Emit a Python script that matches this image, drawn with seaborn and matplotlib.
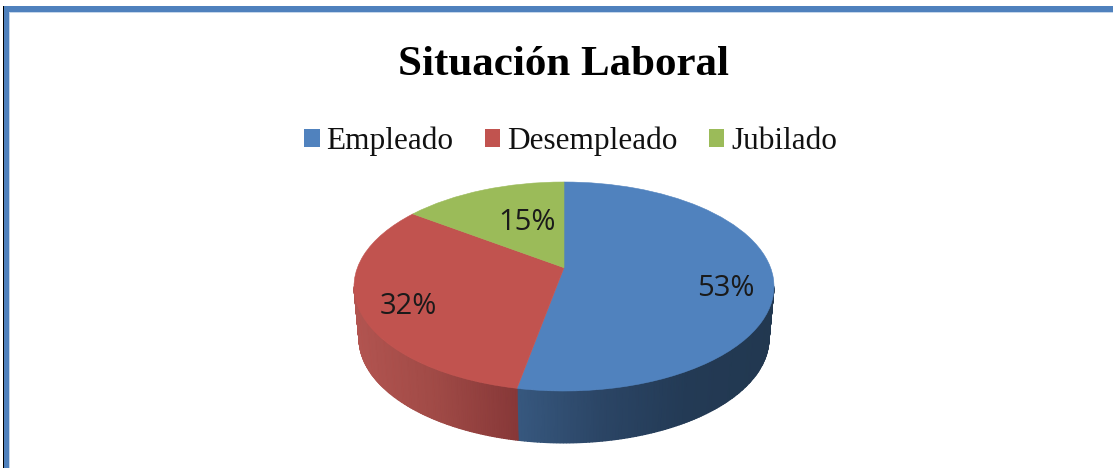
import numpy as np
import matplotlib
matplotlib.use("Agg")
import matplotlib.pyplot as plt
import seaborn as sns
from matplotlib.colors import LinearSegmentedColormap
from matplotlib.patches import Patch, Rectangle
from matplotlib.transforms import Transform

categories = ["Empleado", "Desempleado", "Jubilado"]
shares = [53, 32, 15]
pct_labels = ["53%", "32%", "15%"]

colors = ["#5082be", "#c1534f", "#9bbb59"]
wall_colors = [["#37587f", "#2b4565", "#233a55", "#223850"],
               ["#b25450", "#a04a46", "#873838"]]

# ellipse of the top face in image pixels, tilt moves the pie centre up
cx, cy, rx, ry = 564, 286.5, 210, 104.5
tilt = 0.18
depth = 52
rx_low = 205


def project(x, y):
    # perspective of the unit disk, stays a disk but the centre shifts
    d = 1 + tilt * y
    return x * np.sqrt(1 - tilt ** 2) / d, (y + tilt) / d


class TopFace(Transform):
    input_dims = 2
    output_dims = 2
    is_separable = False

    def transform_non_affine(self, values):
        values = np.asarray(values)
        x, y = project(values[:, 0], values[:, 1])
        return np.column_stack([cx + rx * x, cy - ry * y])


sns.set_theme(style="white")

fig = plt.figure(figsize=(11.13, 4.68), dpi=100)
ax = fig.add_axes([0, 0, 1, 1])

wedges, _ = ax.pie(shares, colors=colors, startangle=90, counterclock=False,
                   wedgeprops={"linewidth": 0.4, "zorder": 3})
top_face = TopFace() + ax.transData
for w, c in zip(wedges, colors):
    w.set_edgecolor(c)
    w.set_transform(top_face)

ax.set_aspect("auto")
ax.set_xlim(0, 1113)
ax.set_ylim(468, 0)
ax.axis("off")

# side wall, only the part of each slice facing the viewer
edges = 90 - 3.6 * np.cumsum([0] + shares)
front_right = np.degrees(np.arcsin(-tilt))
front_left = -180 - front_right
for i, stops in enumerate(wall_colors):
    hi = min(edges[i], front_right)
    lo = max(edges[i + 1], front_left)
    t = np.radians(np.linspace(hi, lo, 120))
    x, y = project(np.cos(t), np.sin(t))
    X = np.array([cx + rx * x, cx + rx_low * x])
    Y = np.array([cy - ry * y, cy + depth - ry * y])
    # left to right shading
    C = np.tile((X[0] - X[0].min()) / np.ptp(X[0]), (2, 1))
    cmap = LinearSegmentedColormap.from_list("wall%d" % i, stops)
    ax.pcolormesh(X, Y, C, shading="gouraud", cmap=cmap, zorder=1)

# frame of the embedded chart
ax.add_patch(Rectangle((3, 6), 1.4, 462, color="black", lw=0, zorder=5))
ax.add_patch(Rectangle((4, 6), 4.5, 462, color="#4f81bd", lw=0, zorder=5))
ax.add_patch(Rectangle((8.5, 11.5), 1.5, 457, color="#c5d6ea", lw=0, zorder=4))
ax.add_patch(Rectangle((4, 6), 1109, 5.5, color="#4f81bd", lw=0, zorder=5))
ax.add_patch(Rectangle((8.5, 11.5), 1105, 1.2, color="#c5d6ea", lw=0, zorder=4))

ax.text(563, 65, "Situación Laboral", family="Liberation Serif", weight="bold",
        fontsize=31, color="black", ha="center", va="center")

handles = [Patch(color=c, lw=0) for c in colors]
ax.legend(handles, categories, loc="center", bbox_to_anchor=(570.5, 141),
          bbox_transform=ax.transData, ncol=3, frameon=False,
          prop={"family": "Liberation Serif", "size": 22.5},
          handlelength=0.5, handleheight=0.5, handletextpad=0.22,
          columnspacing=1.0, labelcolor="#111111")

label_xy = [(726, 288), (408, 307), (527, 223)]
for (lx, ly), s in zip(label_xy, pct_labels):
    ax.text(lx, ly, s, family="Open Sans", fontsize=21, color="#1a1a1a",
            ha="center", va="center", zorder=6)

fig.savefig("out.png", dpi=100)
